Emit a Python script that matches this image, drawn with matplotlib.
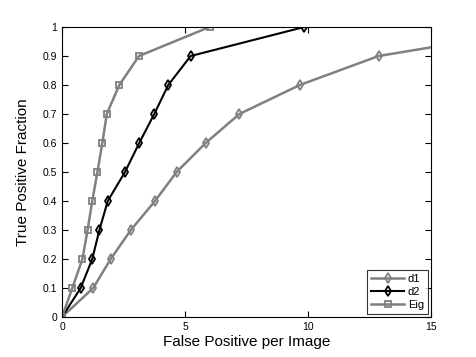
import numpy as np
import matplotlib
matplotlib.use('Agg')
from matplotlib import pyplot as plt

plt.rcParams['font.family'] = ['Liberation Sans', 'DejaVu Sans']

# ROC style data
tpf = [0, 0.1, 0.2, 0.3, 0.4, 0.5, 0.6, 0.7, 0.8, 0.9, 1.0]
fp_d1 = [0, 1.27, 1.98, 2.80, 3.78, 4.66, 5.84, 7.21, 9.67, 12.87, 20.0]
fp_d2 = [0, 0.76, 1.23, 1.52, 1.86, 2.56, 3.14, 3.75, 4.32, 5.23, 9.85]
fp_eig = [0, 0.42, 0.83, 1.04, 1.23, 1.44, 1.64, 1.82, 2.33, 3.13, 6.0]

grey = '#808080'

fig = plt.figure(figsize=(4.76, 3.57), dpi=100)
ax = fig.add_axes([62/476, 40/357, 369/476, 290/357])

ax.plot(fp_d1, tpf, color=grey, lw=1.8, marker='d', ms=5, mfc='none', mec=grey, mew=1.3, label='d1')
ax.plot(fp_d2, tpf, color='black', lw=1.5, marker='d', ms=5, mfc='none', mec='black', mew=1.3, label='d2')
ax.plot(fp_eig, tpf, color=grey, lw=1.8, marker='s', ms=4.5, mfc='none', mec=grey, mew=1.3, label='Eig')

ax.set_xlim(0, 15)
ax.set_ylim(0, 1)
ax.set_xticks([0, 5, 10, 15])
ax.set_yticks(np.arange(0, 1.01, 0.1))
ax.set_yticklabels(['0', '0.1', '0.2', '0.3', '0.4', '0.5', '0.6', '0.7', '0.8', '0.9', '1'])
ax.tick_params(direction='in', top=True, right=True, labelsize=7.5, length=4, width=0.8)
for s in ax.spines.values():
    s.set_linewidth(0.8)

ax.set_xlabel('False Positive per Image', fontsize=11, labelpad=2)
ax.set_ylabel('True Positive Fraction', fontsize=11, labelpad=9)

leg = ax.legend(loc='lower right', fontsize=8, fancybox=False, edgecolor='black',
                handlelength=3, borderpad=0.35, labelspacing=0.25, handletextpad=0.3,
                borderaxespad=0.3)
leg.get_frame().set_linewidth(0.8)

fig.savefig('out.png', dpi=100)
